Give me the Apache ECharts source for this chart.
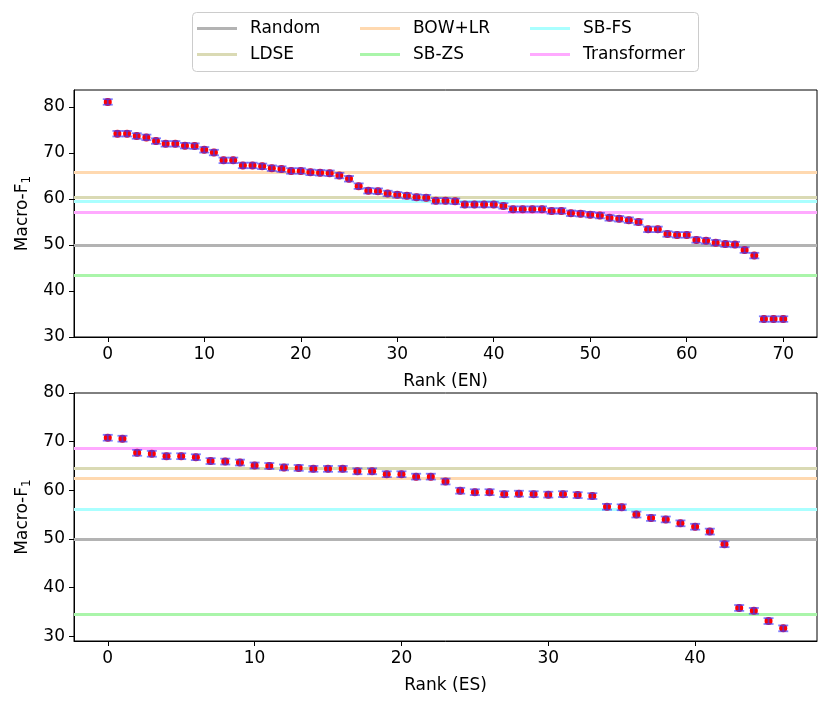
<!DOCTYPE html>
<html>
<head>
<meta charset="utf-8">
<script src="https://cdn.jsdelivr.net/npm/echarts@6/dist/echarts.min.js"></script>
<style>
  html, body { margin: 0; padding: 0; background: #fff; }
  #chart { width: 830px; height: 709px; }
</style>
</head>
<body>
<div id="chart"></div>
<script>
// scores per rank
var enScores = [81.1, 74.2, 74.2, 73.7, 73.4, 72.6, 72.0, 72.0, 71.6, 71.5,
    70.7, 70.1, 68.4, 68.4, 67.3, 67.3, 67.1, 66.7, 66.5, 66.1,
    66.1, 65.8, 65.7, 65.6, 65.1, 64.4, 62.8, 61.8, 61.7, 61.2,
    60.9, 60.7, 60.4, 60.3, 59.6, 59.6, 59.5, 58.8, 58.8, 58.8,
    58.8, 58.5, 57.8, 57.8, 57.8, 57.8, 57.4, 57.4, 56.9, 56.8,
    56.6, 56.4, 55.9, 55.7, 55.4, 55.0, 53.4, 53.4, 52.4, 52.2,
    52.2, 51.1, 50.9, 50.5, 50.2, 50.1, 48.9, 47.7, 33.9, 33.9, 33.9];
var esScores = [70.8, 70.6, 67.7, 67.5, 67.0, 67.0, 66.8, 66.0, 65.9, 65.7,
    65.1, 65.0, 64.7, 64.6, 64.4, 64.4, 64.4, 63.9, 63.9, 63.3,
    63.3, 62.8, 62.8, 61.8, 59.9, 59.6, 59.6, 59.2, 59.3, 59.2,
    59.1, 59.2, 59.0, 58.8, 56.6, 56.5, 55.0, 54.3, 54.0, 53.2,
    52.5, 51.5, 48.9, 35.8, 35.2, 33.1, 31.6];
var errHalf = 0.6;

var baseNames = ['Random', 'LDSE', 'BOW+LR', 'SB-ZS', 'SB-FS', 'Transformer'];
var baseColors = ['#b3b3b3', '#dadab4', '#ffd9b0', '#aaf5aa', '#aaffff', '#ffaaff'];
var enBase = [50.0, 60.4, 65.8, 43.4, 59.5, 57.2];
var esBase = [50.0, 64.6, 62.4, 34.6, 56.0, 68.55];

var yTicks = [30, 40, 50, 60, 70, 80];
var enXTicks = [0, 10, 20, 30, 40, 50, 60, 70];
var esXTicks = [0, 10, 20, 30, 40];

var FONT = 'DejaVu Sans';

function errRender(params, api) {
    var x = api.value(0), y = api.value(1), e = api.value(2);
    var hi = api.coord([x, y + e]);
    var lo = api.coord([x, y - e]);
    var w = 5;
    var st = { stroke: '#3c3cff', lineWidth: 1.8, opacity: 0.65 };
    return {
        type: 'group',
        children: [
            { type: 'line', shape: { x1: hi[0], y1: hi[1], x2: lo[0], y2: lo[1] }, style: st },
            { type: 'line', shape: { x1: hi[0] - w, y1: hi[1], x2: hi[0] + w, y2: hi[1] }, style: st },
            { type: 'line', shape: { x1: lo[0] - w, y1: lo[1], x2: lo[0] + w, y2: lo[1] }, style: st }
        ]
    };
}

function xAxisOf(idx, min, max, ticks, name) {
    return {
        type: 'value', gridIndex: idx, min: min, max: max,
        name: name, nameLocation: 'middle', nameGap: 36,
        nameTextStyle: { color: '#000', fontSize: 17, fontFamily: FONT },
        axisLine: { onZero: false, lineStyle: { color: '#000', width: 1 } },
        axisTick: { customValues: ticks, length: 5, lineStyle: { color: '#000' } },
        axisLabel: { customValues: ticks, color: '#000', fontSize: 17, fontFamily: FONT, margin: 9 },
        splitLine: { show: false }
    };
}

function yAxisOf(idx, min, max) {
    return {
        type: 'value', gridIndex: idx, min: min, max: max,
        name: 'Macro-F{s|1}', nameLocation: 'middle', nameGap: 41,
        nameTextStyle: {
            color: '#000', fontSize: 17, fontFamily: FONT,
            rich: { s: { fontSize: 12, fontFamily: FONT, verticalAlign: 'bottom', padding: [8, 0, 0, 0] } }
        },
        axisLine: { show: true, onZero: false, lineStyle: { color: '#000', width: 1 } },
        axisTick: { customValues: yTicks, length: 5, lineStyle: { color: '#000' } },
        axisLabel: { customValues: yTicks, color: '#000', fontSize: 17, fontFamily: FONT, margin: 9 },
        splitLine: { show: false }
    };
}

var series = [];
[enBase, esBase].forEach(function (vals, g) {
    for (var i = 0; i < baseNames.length; i++) {
        series.push({
            name: baseNames[i], type: 'line', xAxisIndex: g, yAxisIndex: g,
            data: [], color: baseColors[i], symbol: 'none', z: 1,
            markLine: {
                silent: true, symbol: 'none', z: 1, label: { show: false },
                lineStyle: { color: baseColors[i], width: 3, type: 'solid' },
                data: [{ yAxis: vals[i] }]
            }
        });
    }
});
[enScores, esScores].forEach(function (vals, g) {
    series.push({
        type: 'scatter', xAxisIndex: g, yAxisIndex: g, symbolSize: 8, z: 3,
        itemStyle: { color: '#ff0000', opacity: 1 },
        data: vals.map(function (v, i) { return [i, v]; })
    });
    series.push({
        type: 'custom', xAxisIndex: g, yAxisIndex: g, z: 4,
        renderItem: errRender,
        data: vals.map(function (v, i) { return [i, v, errHalf]; })
    });
});

function legendCol(left, names) {
    return {
        orient: 'vertical', left: left, top: 20, itemGap: 9, padding: 0,
        itemWidth: 40, itemHeight: 3, icon: 'rect',
        textStyle: { color: '#000', fontSize: 17, fontFamily: FONT, padding: [0, 0, 0, 8] },
        data: names
    };
}

var chart = echarts.init(document.getElementById('chart'), null, { renderer: 'canvas' });
chart.setOption({
    backgroundColor: '#fff',
    animation: false,
    graphic: [{
        type: 'rect', left: 192, top: 12, z: -1,
        shape: { width: 506, height: 59, r: 4 },
        style: { fill: '#fff', stroke: '#cccccc', lineWidth: 1 }
    }],
    legend: [
        legendCol(197, ['Random', 'LDSE']),
        legendCol(360, ['BOW+LR', 'SB-ZS']),
        legendCol(530, ['SB-FS', 'Transformer'])
    ],
    grid: [
        { left: 74, top: 90, width: 743, height: 247, show: true, borderColor: '#000', borderWidth: 1 },
        { left: 74, top: 393, width: 743, height: 248, show: true, borderColor: '#000', borderWidth: 1 }
    ],
    xAxis: [
        xAxisOf(0, -3.5, 73.5, enXTicks, 'Rank (EN)'),
        xAxisOf(1, -2.3, 48.3, esXTicks, 'Rank (ES)')
    ],
    yAxis: [
        yAxisOf(0, 30, 83.7),
        yAxisOf(1, 29, 80)
    ],
    series: series
});
</script>
</body>
</html>
